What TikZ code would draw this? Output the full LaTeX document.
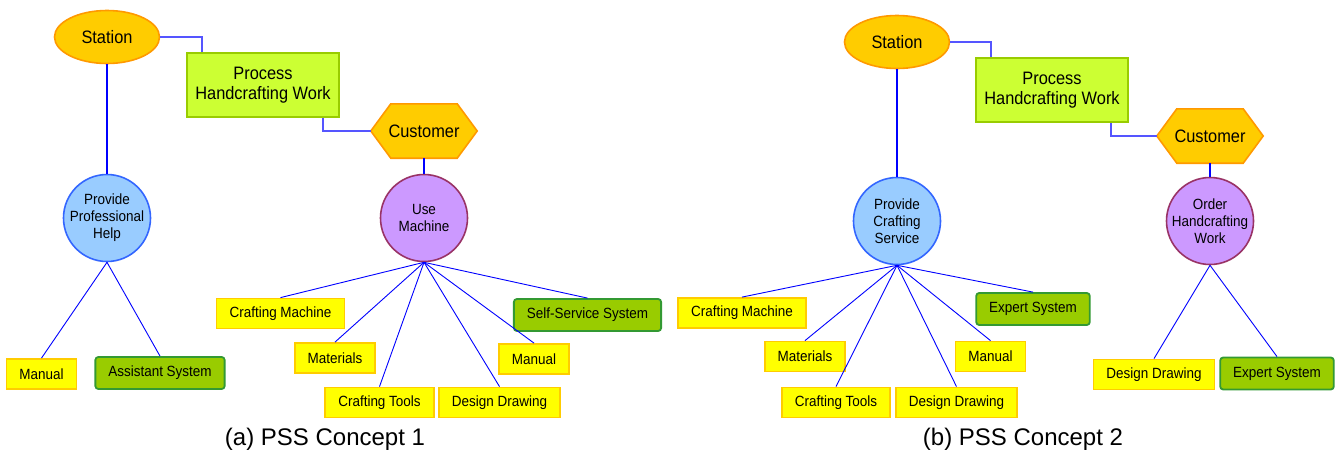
\documentclass[tikz,border=0pt]{standalone}
\usepackage{fontspec}
\setmainfont[FakeStretch=0.91]{Liberation Sans}
\newfontfamily\capfont{Liberation Sans}
\usetikzlibrary{shapes.geometric,backgrounds}
\definecolor{stfill}{HTML}{FFCC00}
\definecolor{stdraw}{HTML}{FF9900}
\definecolor{prfill}{HTML}{CCFF33}
\definecolor{prdraw}{HTML}{99CC00}
\definecolor{bcfill}{HTML}{99CCFF}
\definecolor{bcdraw}{HTML}{3366FF}
\definecolor{pcfill}{HTML}{CC99FF}
\definecolor{pcdraw}{HTML}{993366}
\definecolor{ybfill}{HTML}{FFFF00}
\definecolor{ybdraw}{HTML}{FFCC00}
\definecolor{gbfill}{HTML}{99CC00}
\definecolor{gbdraw}{HTML}{339933}
\definecolor{lnblue}{HTML}{0000FF}
\definecolor{lnlight}{HTML}{5555FF}
\begin{document}
\begin{tikzpicture}[x=1pt,y=-1pt,
  station/.style={ellipse,fill=stfill,draw=stdraw,line width=1.6pt,minimum width=105pt,minimum height=53pt,inner sep=0pt,font=\fontsize{18}{20}\selectfont},
  proc/.style={rectangle,fill=prfill,draw=prdraw,line width=1.8pt,minimum width=152pt,minimum height=64pt,inner sep=0pt,align=center,font=\fontsize{18}{20}\selectfont},
  custtext/.style={rectangle,minimum width=106pt,minimum height=54pt,inner sep=0pt,font=\fontsize{18}{20}\selectfont},
  hexshape/.style={fill=stfill,draw=stdraw,line width=1.6pt,line join=miter},
  bcirc/.style={ellipse,fill=bcfill,draw=bcdraw,line width=1.6pt,minimum width=87pt,minimum height=87pt,inner sep=0pt},
  pcirc/.style={ellipse,fill=pcfill,draw=pcdraw,line width=1.6pt,minimum width=87pt,minimum height=87pt,inner sep=0pt},
  ctext/.style={align=center,inner sep=0pt,font=\fontsize{14.8}{17}\selectfont},
  ybox/.style={rectangle,fill=ybfill,draw=ybdraw,line width=1.8pt,minimum height=30pt,inner xsep=13pt,inner ysep=0pt,font=\fontsize{14.8}{16}\selectfont},
  gbox/.style={rectangle,rounded corners=3pt,fill=gbfill,draw=gbdraw,line width=1.8pt,minimum height=32pt,inner xsep=13pt,inner ysep=0pt,font=\fontsize{14.8}{16}\selectfont},
  thick link/.style={draw=lnblue,line width=2pt},
  thin link/.style={draw=lnblue,line width=0.9pt},
  elbow/.style={draw=lnlight,line width=1.3pt},
  caption/.style={font=\capfont\fontsize{24}{28}\selectfont,inner sep=0pt}]
\useasboundingbox (0,0) rectangle (1341,453);

% ---------- (a) ----------
\node[station] (s1) at (107,37) {Station};
\node[proc] (p1) at (263,85) {Process\\Handcrafting Work};
\node[custtext] (c1) at (424,131) {Customer};
\begin{scope}[on background layer]
\path[hexshape] (c1.west) -- ([xshift=20pt]c1.north west) -- ([xshift=-20pt]c1.north east) -- (c1.east) -- ([xshift=-20pt]c1.south east) -- ([xshift=20pt]c1.south west) -- cycle;
\end{scope}
\node[bcirc] (h1) at (107,218) {};
\node[ctext] (h1t) at (h1) {Provide\\Professional\\Help};
\node[pcirc] (u1) at (424,218) {};
\node[ctext] (u1t) at (u1) {Use\\Machine};

\node[ybox] (a1) at (41.5,374) {Manual};
\node[gbox] (a2) at (160,373) {Assistant System};
\node[ybox] (a3) at (280.5,313.5) {Crafting Machine};
\node[ybox] (a4) at (335,358) {Materials};
\node[ybox] (a5) at (379.5,402.5) {Crafting Tools};
\node[ybox] (a6) at (499.5,402.5) {Design Drawing};
\node[ybox] (a7) at (534,359) {Manual};
\node[gbox] (a8) at (587.5,315) {Self-Service System};

\draw[elbow] (s1.east) -| ([xshift=16pt]p1.north west);
\draw[elbow] ([xshift=-17pt]p1.south east) |- (c1.west);
\draw[thick link] (s1.south) -- (h1.north);
\draw[thick link] (c1.south) -- (u1.north);
\foreach \t in {a1,a2} \draw[thin link] (h1.south) -- (\t.north);
\foreach \t in {a3,a4,a5,a6,a7,a8} \draw[thin link] (u1.south) -- (\t.north);

\node[caption] (capa) at (325,439) {(a) PSS Concept 1};

% ---------- (b) ----------
\node[station] (s2) at (897,42) {Station};
\node[proc] (p2) at (1052,90) {Process\\Handcrafting Work};
\node[custtext] (c2) at (1210,136) {Customer};
\begin{scope}[on background layer]
\path[hexshape] (c2.west) -- ([xshift=20pt]c2.north west) -- ([xshift=-20pt]c2.north east) -- (c2.east) -- ([xshift=-20pt]c2.south east) -- ([xshift=20pt]c2.south west) -- cycle;
\end{scope}
\node[bcirc] (h2) at (897,221) {};
\node[ctext] (h2t) at (h2) {Provide\\Crafting\\Service};
\node[pcirc] (u2) at (1210,221) {};
\node[ctext] (u2t) at (u2) {Order\\Handcrafting\\Work};

\node[ybox] (b1) at (742,313) {Crafting Machine};
\node[ybox] (b2) at (805,356.5) {Materials};
\node[ybox] (b3) at (836,402.5) {Crafting Tools};
\node[ybox] (b4) at (956.5,402.5) {Design Drawing};
\node[ybox] (b5) at (990.5,356.5) {Manual};
\node[gbox] (b6) at (1033,309) {Expert System};
\node[ybox] (b7) at (1154,374.5) {Design Drawing};
\node[gbox] (b8) at (1277,373.5) {Expert System};

\draw[elbow] (s2.east) -| ([xshift=16pt]p2.north west);
\draw[elbow] ([xshift=-18pt]p2.south east) |- (c2.west);
\draw[thick link] (s2.south) -- (h2.north);
\draw[thick link] (c2.south) -- (u2.north);
\foreach \t in {b1,b2,b3,b4,b5,b6} \draw[thin link] (h2.south) -- (\t.north);
\foreach \t in {b7,b8} \draw[thin link] (u2.south) -- (\t.north);

\node[caption] (capb) at (1023,439) {(b) PSS Concept 2};
\end{tikzpicture}
\end{document}
